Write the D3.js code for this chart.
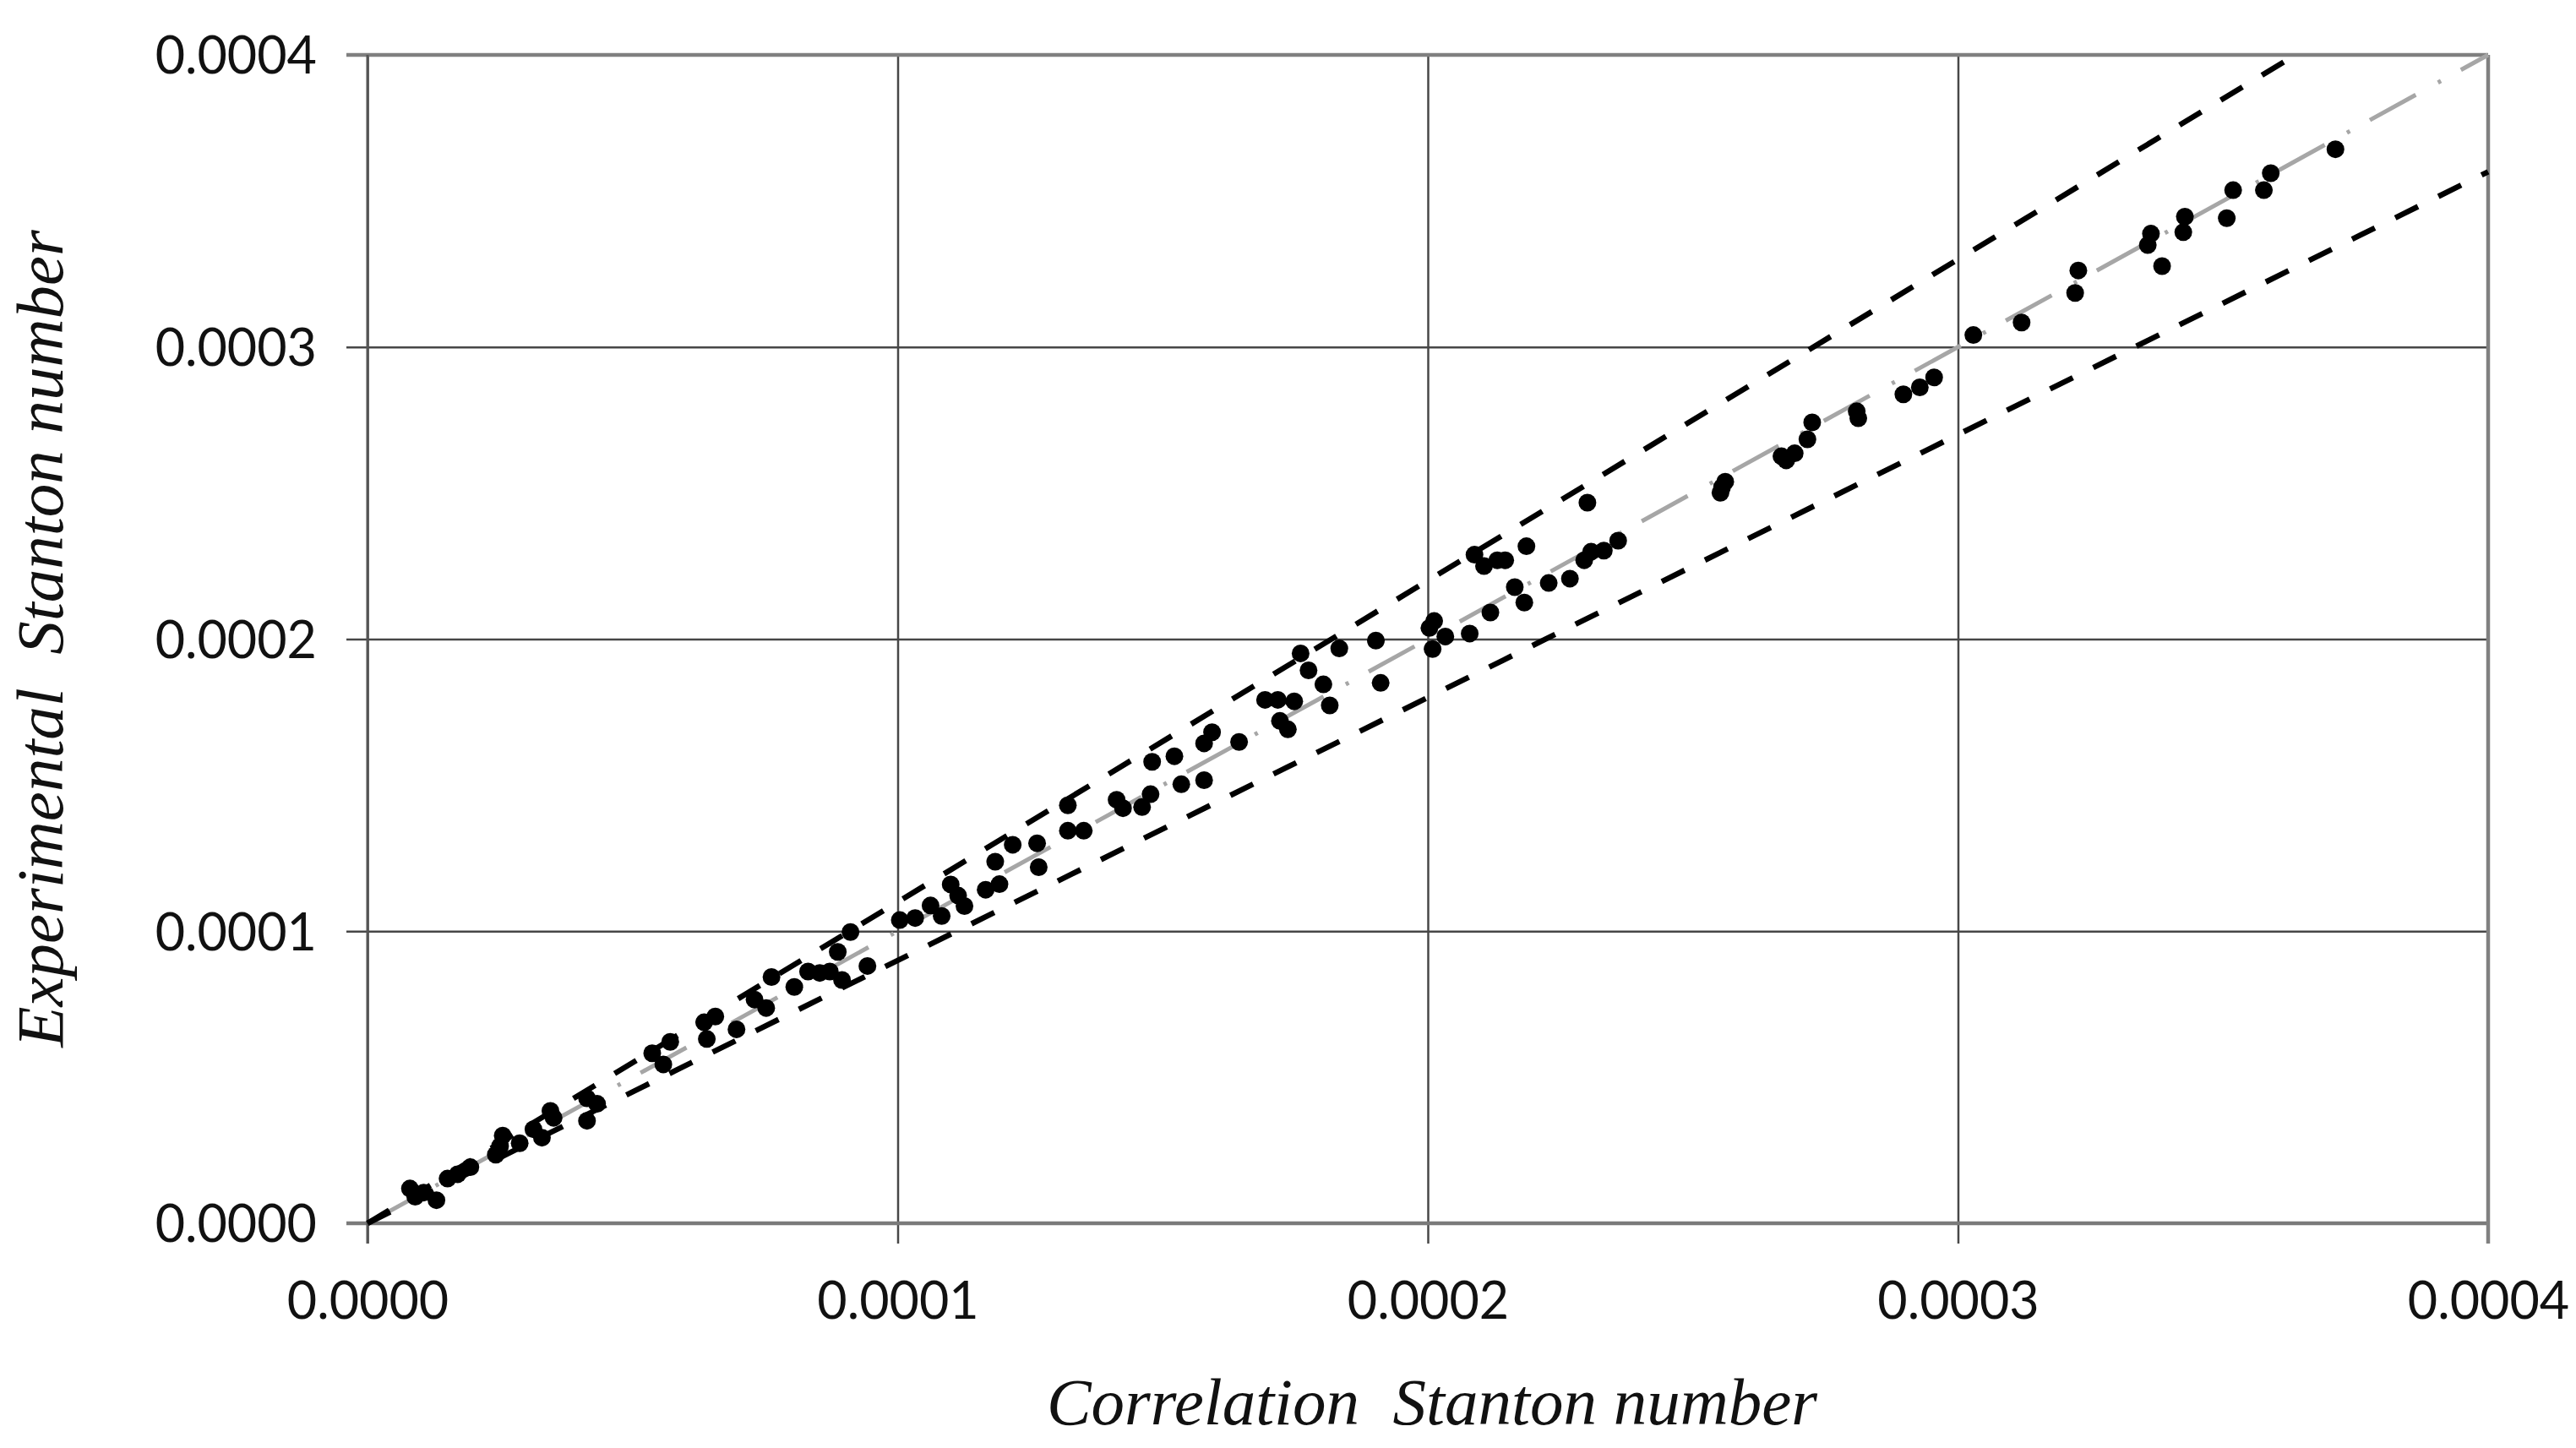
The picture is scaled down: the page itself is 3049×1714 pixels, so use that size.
<!DOCTYPE html>
<html>
<head>
<meta charset="utf-8">
<script src="https://cdn.jsdelivr.net/npm/d3@7"></script>
<style>
  html, body { margin: 0; padding: 0; background: #fff; }
  svg { display: block; }
</style>
</head>
<body>
<svg id="chart" width="3049" height="1714"></svg>
<script>
// ---------- data ----------
const UNIT = 1e-5; // values below are in units of 1e-5
const tickValues = [0, 0.0001, 0.0002, 0.0003, 0.0004];
const tickLabels = ["0.0000", "0.0001", "0.0002", "0.0003", "0.0004"];
const xTitle = "Correlation  Stanton number";
const yTitle = "Experimental  Stanton number";

const correlationSt = [
  0.80, 0.90, 1.06, 1.30, 1.51, 1.70, 1.94, 2.42, 2.50, 2.55,
  2.87, 3.13, 3.29, 3.45, 3.51, 4.14, 4.33, 4.14, 5.37, 5.58,
  5.71, 6.35, 6.56, 6.40, 6.96, 7.30, 7.52, 7.62, 8.05, 8.31,
  8.53, 8.72, 8.87, 8.95, 9.11, 9.43, 10.04, 10.33, 10.62, 10.83,
  11.00, 11.14, 11.26, 11.66, 11.92, 11.84, 12.17, 12.63, 12.66, 13.21,
  13.21, 13.51, 14.13, 14.25, 14.61, 14.77, 14.80, 15.22, 15.35, 15.78,
  15.78, 15.93, 16.44, 16.93, 17.17, 17.48, 17.21, 17.36, 17.60, 17.75,
  18.03, 18.15, 18.33, 19.02, 19.11, 20.12, 20.03, 20.33, 20.09, 20.79,
  21.18, 21.64, 21.82, 20.88, 21.06, 21.31, 21.46, 21.86, 22.28, 22.68,
  22.95, 23.08, 23.32, 23.59, 23.01, 25.55, 25.61, 25.52, 26.67, 26.76,
  26.92, 27.16, 27.25, 28.09, 28.12, 28.97, 29.28, 29.55, 30.29, 31.20,
  32.21, 32.27, 33.64, 33.58, 33.85, 34.28, 34.25, 35.07, 35.19, 35.77,
  35.90, 37.12
];
const experimentalSt = [
  1.19, 0.91, 1.05, 0.79, 1.53, 1.68, 1.92, 2.35, 2.64, 3.00,
  2.74, 3.22, 2.93, 3.85, 3.61, 4.28, 4.09, 3.51, 5.82, 5.44,
  6.21, 6.88, 7.08, 6.31, 6.64, 7.66, 7.37, 8.43, 8.09, 8.62,
  8.57, 8.62, 9.29, 8.33, 9.97, 8.81, 10.38, 10.45, 10.88, 10.52,
  11.60, 11.22, 10.86, 11.42, 11.61, 12.38, 12.96, 13.01, 12.19, 14.31,
  13.44, 13.44, 14.50, 14.21, 14.25, 14.69, 15.80, 15.99, 15.03, 15.17,
  16.43, 16.81, 16.48, 17.92, 17.92, 17.87, 17.20, 16.91, 19.51, 18.93,
  18.45, 17.73, 19.68, 19.95, 18.50, 20.62, 20.38, 20.09, 19.66, 20.19,
  20.91, 21.78, 21.25, 22.89, 22.50, 22.70, 22.70, 23.18, 21.92, 22.07,
  22.70, 22.99, 23.03, 23.37, 24.67, 25.20, 25.39, 25.01, 26.26, 26.12,
  26.36, 26.84, 27.42, 27.80, 27.56, 28.38, 28.62, 28.96, 30.41, 30.84,
  31.85, 32.62, 33.88, 33.49, 32.77, 34.46, 33.93, 34.41, 35.37, 35.37,
  35.95, 36.77
];

// reference lines y = factor * x
const refFactors = [1.0, 1.1, 0.9];
const refNames = ["equal", "plus10", "minus10"];

// ---------- layout ----------
const svg = d3.select("#chart");
const W = 3049, H = 1714;
const L = 435, R = 2945, T = 65, B = 1448;

svg.append("rect").attr("width", W).attr("height", H).attr("fill", "#fff");

const x = d3.scaleLinear().domain([0, 0.0004]).range([L, R]);
const y = d3.scaleLinear().domain([0, 0.0004]).range([B, T]);

const tickFont = "Lato, 'Liberation Sans', sans-serif";
const titleFont = "'Liberation Serif', 'DejaVu Serif', serif";

// gridlines via axes
const gridColor = "#474747";
const yGrid = svg.append("g").attr("transform", `translate(${L},0)`)
  .call(d3.axisLeft(y).tickValues(tickValues).tickSize(-(R - L)).tickFormat(""));
yGrid.select(".domain").remove();
yGrid.selectAll("line").attr("stroke", gridColor).attr("stroke-width", 2.5).attr("x1", -25);

const xGrid = svg.append("g").attr("transform", `translate(0,${B})`)
  .call(d3.axisBottom(x).tickValues(tickValues).tickSize(-(B - T)).tickFormat(""));
xGrid.select(".domain").remove();
xGrid.selectAll("line").attr("stroke", gridColor).attr("stroke-width", 2.5).attr("y1", 24);

// border (top/right/bottom grey)
svg.append("line").attr("x1", L - 25).attr("x2", R).attr("y1", y(0.0004)).attr("y2", y(0.0004))
  .attr("stroke", "#808080").attr("stroke-width", 4.5);
svg.append("line").attr("x1", L - 25).attr("x2", R).attr("y1", y(0)).attr("y2", y(0))
  .attr("stroke", "#7a7a7a").attr("stroke-width", 4.5);
svg.append("line").attr("x1", x(0.0004)).attr("x2", x(0.0004)).attr("y1", T).attr("y2", B + 24)
  .attr("stroke", "#808080").attr("stroke-width", 4.5);
svg.append("line").attr("x1", x(0)).attr("x2", x(0)).attr("y1", T).attr("y2", B + 24)
  .attr("stroke", "#555").attr("stroke-width", 3);

// tick labels
const yAxis = svg.append("g").attr("transform", `translate(${L - 60},0)`)
  .call(d3.axisLeft(y).tickValues(tickValues).tickSize(0).tickFormat((d, i) => tickLabels[i]));
yAxis.select(".domain").remove();
yAxis.selectAll("text")
  .attr("x", 0).attr("dy", "0.36em")
  .attr("text-anchor", "end")
  .attr("font-family", tickFont).attr("font-size", 61).attr("fill", "#111");

const xAxis = svg.append("g").attr("transform", `translate(0,${B})`)
  .call(d3.axisBottom(x).tickValues(tickValues).tickSize(0).tickFormat((d, i) => tickLabels[i]));
xAxis.select(".domain").remove();
xAxis.selectAll("text")
  .attr("y", 113).attr("dy", 0)
  .attr("text-anchor", "middle")
  .attr("font-family", tickFont).attr("font-size", 61).attr("fill", "#111");

// reference lines
const line = d3.line().x(d => x(d[0])).y(d => y(d[1]));
refFactors.forEach((f, i) => {
  const xEnd = Math.min(0.0004, 0.0004 / f);
  const pts = [[0, 0], [xEnd, xEnd * f]];
  const p = svg.append("path").datum(pts).attr("d", line).attr("fill", "none");
  if (refNames[i] === "equal") {
    p.attr("stroke", "#a6a6a6").attr("stroke-width", 5).attr("stroke-dasharray", "62 30 4 27");
  } else {
    p.attr("stroke", "#000").attr("stroke-width", 6.5).attr("stroke-dasharray", "30 27");
  }
});

// data points
const pts = correlationSt.map((c, i) => [c * UNIT, experimentalSt[i] * UNIT]);
svg.append("g").selectAll("circle").data(pts).join("circle")
  .attr("cx", d => x(d[0])).attr("cy", d => y(d[1])).attr("r", 10.5).attr("fill", "#000");

// titles
svg.append("text")
  .attr("x", 1695).attr("y", 1686)
  .attr("text-anchor", "middle")
  .attr("font-family", titleFont).attr("font-style", "italic").attr("font-size", 79)
  .attr("fill", "#111").style("white-space", "pre")
  .text(xTitle);

svg.append("text")
  .attr("transform", "translate(74,756) rotate(-90)")
  .attr("text-anchor", "middle")
  .attr("font-family", titleFont).attr("font-style", "italic").attr("font-size", 79)
  .attr("fill", "#111").style("white-space", "pre")
  .text(yTitle);
</script>
</body>
</html>
